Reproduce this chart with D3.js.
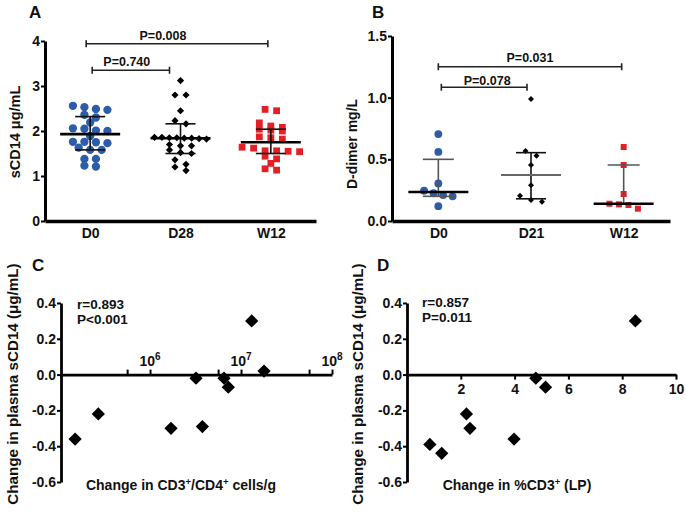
<!DOCTYPE html>
<html>
<head>
<meta charset="utf-8">
<script src="https://cdn.jsdelivr.net/npm/d3@7"></script>
<style>
body { margin: 0; background: #fff; }
</style>
</head>
<body>
<script>
// ---- data ----
const groupsA = ["D0", "D28", "W12"];
const sCD14D0 = [2.56, 2.53, 2.49, 2.47, 2.36, 2.30, 2.19, 2.06, 2.05, 2.01, 2.00, 1.89,
                 1.76, 1.76, 1.75, 1.73, 1.63, 1.58, 1.58, 1.38, 1.38, 1.23, 1.21];
const sCD14D28 = [3.12, 2.80, 2.80, 2.45, 2.23, 2.16, 1.86, 1.86, 1.85, 1.85, 1.84, 1.84,
                  1.83, 1.82, 1.70, 1.67, 1.67, 1.58, 1.52, 1.50, 1.36, 1.26, 1.20, 1.12];
const sCD14W12 = [2.48, 2.45, 2.18, 2.11, 2.08, 2.04, 2.02, 2.00, 1.87, 1.85, 1.82, 1.64,
                  1.62, 1.56, 1.56, 1.55, 1.54, 1.44, 1.38, 1.28, 1.16, 1.13];
const sCD14Median = [1.93, 1.84, 1.75];
const sCD14Q1 = [1.58, 1.50, 1.50];
const sCD14Q3 = [2.32, 2.16, 2.04];
const pairsA = [["D0", "W12"], ["D0", "D28"]];
const pLabelsA = ["P=0.008", "P=0.740"];

const groupsB = ["D0", "D21", "W12"];
const dimerD0 = [0.705, 0.56, 0.305, 0.245, 0.225, 0.21, 0.20, 0.12];
const dimerD21 = [0.99, 0.567, 0.53, 0.454, 0.29, 0.205, 0.17, 0.157];
const dimerW12 = [0.60, 0.454, 0.219, 0.14, 0.135, 0.13, 0.10];
const dimerMedian = [0.235, 0.373, 0.14];
const dimerQ1 = [0.20, 0.18, 0.14];
const dimerQ3 = [0.50, 0.554, 0.454];
const pairsB = [["D0", "W12"], ["D0", "D21"]];
const pLabelsB = ["P=0.031", "P=0.078"];

const cd4CellsChange = [1.5e5, 2.7e5, 1.7e6, 3.2e6, 3.76e6, 6.5e6, 7.25e6, 1.31e7, 1.79e7];
const sCD14ChangeC = [-0.36, -0.22, -0.30, -0.02, -0.29, -0.02, -0.07, 0.30, 0.02];
const statsC = ["r=0.893", "P<0.001"];

const cd3PctChange = [0.85, 1.29, 2.21, 2.34, 3.98, 4.79, 5.15, 8.49];
const sCD14ChangeD = [-0.39, -0.44, -0.22, -0.30, -0.36, -0.02, -0.07, 0.30];
const statsD = ["r=0.857", "P=0.011"];

const ticksA = [0, 1, 2, 3, 4];
const ticksB = [0, 0.5, 1.0, 1.5];
const ticksChange = [-0.6, -0.4, -0.2, 0, 0.2, 0.4];
const ticksLogMajor = [1e6, 1e7, 1e8];
const ticksLogMinor = [5.6e5, 5.6e6, 5.6e7];
const ticksPct = [2, 4, 6, 8, 10];

// ---- drawing ----
const FONT = "'Liberation Sans', Arial, sans-serif",
    BLUE = "#2d5da8",
    RED = "#e41f26"

const svg = d3.select("body").append("svg")
    .attr("width", 686)
    .attr("height", 513)
    .attr("font-family", FONT)
    .attr("font-weight", "bold")

function styleAxis(g, w) {
    g.attr("font-family", FONT).attr("font-size", 14).attr("font-weight", "bold")
    g.select(".domain").attr("stroke", "#000").attr("stroke-width", w)
    g.selectAll(".tick line").attr("stroke", "#000").attr("stroke-width", 2)
    g.selectAll(".tick text").attr("fill", "#111")
}

// Prism-like column scatter: points in the same band of y are spread sideways
function swarm(values, y, cx, step, band, maxW) {
    let pts = values.map(v => ({ v: v, y: y(v) })).sort((a, b) => a.y - b.y),
        rows = []
    pts.forEach(p => {
        let r = rows[rows.length - 1]
        if (r && p.y - r[0].y < band) r.push(p)
        else rows.push([p])
    })
    rows.forEach(r => {
        let s = r.length > 1 ? Math.min(step, maxW / (r.length - 1)) : 0
        r.forEach((p, i) => p.x = cx + (i - (r.length - 1) / 2) * s)
    })
    return pts
}

function drawMarks(g, pts, shape, size, color) {
    let rot = shape === "diamond" ? 45 : 0,
        type = shape === "circle" ? d3.symbolCircle : d3.symbolSquare
    g.selectAll(null)
        .data(pts)
        .join("path")
        .attr("d", d3.symbol().type(type).size(size))
        .attr("transform", d => "translate(" + d.x + "," + d.y + ") rotate(" + rot + ")")
        .attr("fill", color)
}

function errorBars(g, x, y, groups, med, q1, q3, sty) {
    groups.forEach((k, i) => {
        let cx = x(k), s = sty[i]
        g.append("line").attr("x1", cx).attr("x2", cx).attr("y1", y(q1[i])).attr("y2", y(q3[i]))
            .attr("stroke", s.bar).attr("stroke-width", 1.6)
        ;[q1[i], q3[i]].forEach(v => g.append("line")
            .attr("x1", cx - s.cap).attr("x2", cx + s.cap).attr("y1", y(v)).attr("y2", y(v))
            .attr("stroke", s.bar).attr("stroke-width", 1.6))
        g.append("line").attr("x1", cx - 30).attr("x2", cx + 30).attr("y1", y(med[i])).attr("y2", y(med[i]))
            .attr("stroke", s.med).attr("stroke-width", s.medW)
    })
}

function brackets(g, x, pairs, labels, geo) {
    pairs.forEach((p, i) => {
        let b = geo[i],
            x0 = x(p[0]) + b.in0,
            x1 = x(p[1]) + b.in1
        g.append("path")
            .attr("d", "M" + x0 + "," + (b.y - 3.5) + "V" + (b.y + 3.5) + "M" + x0 + "," + b.y +
                  "H" + x1 + "M" + x1 + "," + (b.y - 3.5) + "V" + (b.y + 3.5))
            .attr("fill", "none").attr("stroke", "#222").attr("stroke-width", 1.6)
        g.append("text")
            .attr("x", (x0 + x1) / 2 + b.dx).attr("y", b.y - b.gap)
            .attr("text-anchor", "middle").attr("font-size", 12.5).attr("fill", "#111")
            .text(labels[i])
    })
}

function panelLabel(t, x, y) {
    svg.append("text").attr("x", x).attr("y", y).attr("font-size", 17).attr("fill", "#111").text(t)
}

function yLabel(t, x, y, size) {
    return svg.append("text")
        .attr("transform", "translate(" + x + "," + y + ") rotate(-90)")
        .attr("text-anchor", "middle").attr("font-size", size).attr("fill", "#111")
        .text(t)
}

// ---- panel A ----
{
    let y = d3.scaleLinear().domain([0, 4]).range([221, 41]),
        x = d3.scalePoint().domain(groupsA).range([45, 316]).padding(0.5),
        g = svg.append("g")

    g.append("g").attr("transform", "translate(45,0)")
        .call(d3.axisLeft(y).tickValues(ticksA).tickFormat(d3.format("d")).tickSize(4).tickSizeOuter(0).tickPadding(1))
        .call(a => styleAxis(a, 3))
    g.append("g").attr("transform", "translate(0,221)")
        .call(d3.axisBottom(x).tickSize(0).tickPadding(7))
        .call(a => styleAxis(a, 3.5))

    drawMarks(g, swarm(sCD14D0, y, x("D0"), 11.5, 5, 58), "circle", 54, BLUE)
    drawMarks(g, swarm(sCD14D28, y, x("D28"), 11, 5, 52), "diamond", 26, "#000")
    drawMarks(g, swarm(sCD14W12, y, x("W12"), 11.5, 5, 58), "square", 46, RED)

    let sty = groupsA.map(() => ({ bar: "#111", med: "#000", medW: 2.6, cap: 15 }))
    errorBars(g, x, y, groupsA, sCD14Median, sCD14Q1, sCD14Q3, sty)
    brackets(g, x, pairsA, pLabelsA, [
        { y: 43.7, in0: -4, in1: -3, dx: -14, gap: 4 },
        { y: 70.3, in0: 2, in1: -11, dx: -4, gap: 4 }
    ])
    panelLabel("A", 29, 18)
    yLabel("sCD14 μg/mL", 20, 132, 14.5)
}

// ---- panel B ----
{
    let y = d3.scaleLinear().domain([0, 1.5]).range([221, 36]),
        x = d3.scalePoint().domain(groupsB).range([392, 670]).padding(0.5),
        g = svg.append("g")

    g.append("g").attr("transform", "translate(392,0)")
        .call(d3.axisLeft(y).tickValues(ticksB).tickFormat(d3.format(".1f")).tickSize(4).tickSizeOuter(0).tickPadding(1))
        .call(a => styleAxis(a, 3))
    g.append("g").attr("transform", "translate(0,221)")
        .call(d3.axisBottom(x).tickSize(0).tickPadding(7))
        .call(a => styleAxis(a, 3.5))

    drawMarks(g, swarm(dimerD0, y, x("D0"), 9.5, 6, 50), "circle", 48, BLUE)
    drawMarks(g, swarm(dimerD21, y, x("D21"), 11, 6, 50), "diamond", 18, "#000")
    drawMarks(g, swarm(dimerW12, y, x("W12"), 9.5, 6, 50), "square", 36, RED)

    let sty = [
        { bar: "#555", med: "#000", medW: 2.6, cap: 15.5 },
        { bar: "#111", med: "#666", medW: 1.8, cap: 15 },
        { bar: "#555", med: "#000", medW: 2.6, cap: 16 }
    ]
    errorBars(g, x, y, groupsB, dimerMedian, dimerQ1, dimerQ3, sty)
    brackets(g, x, pairsB, pLabelsB, [
        { y: 66.7, in0: 0, in1: -2, dx: 0, gap: 4.5 },
        { y: 87.3, in0: 3, in1: -4, dx: 3, gap: 2.5 }
    ])
    panelLabel("B", 372, 18)
    yLabel("D-dimer mg/L", 357, 144, 14)
}

function supLabel(x, y, parts) {
    let t = svg.append("text").attr("x", x).attr("y", y).attr("text-anchor", "middle")
        .attr("font-size", 14).attr("fill", "#111")
    parts.forEach(p => {
        if (p.sup) t.append("tspan").attr("dy", -5).attr("font-size", 9.5).text(p.sup)
            .clone().attr("dy", 5).attr("font-size", 14).text(p.after)
        else t.append("tspan").text(p.text)
    })
}

// ---- panel C ----
{
    let y = d3.scaleLinear().domain([-0.6, 0.4]).range([482, 303]),
        x = d3.scaleLog().domain([1.05e5, 1e8]).range([61, 332]),
        g = svg.append("g")

    g.append("g").attr("transform", "translate(61,0)")
        .call(d3.axisLeft(y).tickValues(ticksChange).tickFormat(d => d.toFixed(1)).tickSize(4).tickSizeOuter(0).tickPadding(1))
        .call(a => styleAxis(a, 2.8))
    let ax = g.append("g").attr("transform", "translate(0," + y(0) + ")")
        .call(d3.axisTop(x).tickValues(ticksLogMinor.concat(ticksLogMajor)).tickFormat(() => "").tickSize(5).tickSizeOuter(0))
        .call(a => styleAxis(a, 2.8))
    ax.selectAll(null).data(ticksLogMajor).join("text")
        .attr("x", d => x(d)).attr("y", -9).attr("text-anchor", "middle").attr("fill", "#111")
        .text("10")
        .append("tspan").attr("dy", -6).attr("font-size", 10).text(d => Math.round(Math.log10(d)))

    g.selectAll(null)
        .data(cd4CellsChange.map((v, i) => ({ x: x(v), y: y(sCD14ChangeC[i]) })))
        .join("path")
        .attr("d", d3.symbol().type(d3.symbolSquare).size(88))
        .attr("transform", d => "translate(" + d.x + "," + d.y + ") rotate(45)")
        .attr("fill", "#000")

    statsC.forEach((s, i) => svg.append("text").attr("x", 77).attr("y", 309 + i * 14.5)
        .attr("font-size", 13.5).attr("fill", "#111").text(s))
    supLabel(181, 490, [{ text: "Change in CD3" }, { sup: "+", after: "/CD4" }, { sup: "+", after: " cells/g" }])
    panelLabel("C", 32, 271)
    yLabel("Change in plasma sCD14 (μg/mL)", 18, 384, 15.2)
}

// ---- panel D ----
{
    let y = d3.scaleLinear().domain([-0.6, 0.4]).range([482, 303]),
        x = d3.scaleLinear().domain([0, 10]).range([407, 676]),
        g = svg.append("g")

    g.append("g").attr("transform", "translate(407,0)")
        .call(d3.axisLeft(y).tickValues(ticksChange).tickFormat(d => d.toFixed(1)).tickSize(4).tickSizeOuter(0).tickPadding(1))
        .call(a => styleAxis(a, 2.8))
    g.append("g").attr("transform", "translate(0," + y(0) + ")")
        .call(d3.axisBottom(x).tickValues(ticksPct).tickSize(5).tickSizeOuter(0).tickPadding(4))
        .call(a => styleAxis(a, 2.8))

    g.selectAll(null)
        .data(cd3PctChange.map((v, i) => ({ x: x(v), y: y(sCD14ChangeD[i]) })))
        .join("path")
        .attr("d", d3.symbol().type(d3.symbolSquare).size(88))
        .attr("transform", d => "translate(" + d.x + "," + d.y + ") rotate(45)")
        .attr("fill", "#000")

    statsD.forEach((s, i) => svg.append("text").attr("x", 422).attr("y", 307 + i * 14.5)
        .attr("font-size", 13.5).attr("fill", "#111").text(s))
    supLabel(517, 490, [{ text: "Change in %CD3" }, { sup: "+", after: " (LP)" }])
    panelLabel("D", 377, 271)
    yLabel("Change in plasma sCD14 (μg/mL)", 363, 384, 15.2)
}
</script>
</body>
</html>
